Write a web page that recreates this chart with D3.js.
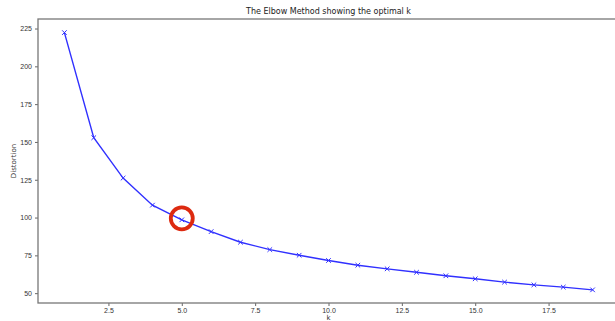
<!DOCTYPE html>
<html lang="en">
<head>
    <meta charset="UTF-8">
    <title>The Elbow Method showing the optimal k</title>
    <script src="https://d3js.org/d3.v7.min.js"></script>
    <style>
        body {
            margin: 0;
            background: #fff;
            font-family: "DejaVu Sans", sans-serif;
        }
        .tick text {
            font-size: 7px;
            fill: #333;
        }
        .tick line {
            stroke: #666;
        }
    </style>
</head>
<body>
    <script>
        // données
        const ks = [1, 2, 3, 4, 5, 6, 7, 8, 9, 10, 11, 12, 13, 14, 15, 16, 17, 18, 19];
        const distortions = [222.3, 152.8, 126.1, 108.2, 98.5, 90.7, 83.7, 78.8, 75.1, 71.6,
                             68.5, 66.1, 63.8, 61.5, 59.5, 57.3, 55.5, 54.0, 52.2];
        const xTicks = [2.5, 5.0, 7.5, 10.0, 12.5, 15.0, 17.5];
        const yTicks = [50, 75, 100, 125, 150, 175, 200, 225];
        const elbowK = 5;
        const elbowValue = 99.5;

        const width = 615;
        const height = 321;
        const margin = { top: 19, right: -4, bottom: 18, left: 38 };

        const svg = d3.select("body")
            .append("svg")
            .attr("width", width)
            .attr("height", height);

        const x = d3.scaleLinear()
            .domain([0.1, 19.9])
            .range([margin.left, width - margin.right]);

        const y = d3.scaleLinear()
            .domain([43.5, 231.3])
            .range([height - margin.bottom, margin.top]);

        // axes
        svg.append("g")
            .attr("transform", `translate(0,${height - margin.bottom})`)
            .call(d3.axisBottom(x).tickValues(xTicks).tickFormat(d3.format(".1f")).tickSize(3).tickPadding(2))
            .call(g => g.select(".domain").remove());

        svg.append("g")
            .attr("transform", `translate(${margin.left},0)`)
            .call(d3.axisLeft(y).tickValues(yTicks).tickSize(3).tickPadding(3))
            .call(g => g.select(".domain").remove());

        // cadre
        svg.append("rect")
            .attr("x", margin.left)
            .attr("y", margin.top)
            .attr("width", width - margin.right - margin.left)
            .attr("height", height - margin.bottom - margin.top)
            .attr("fill", "none")
            .attr("stroke", "#777")
            .attr("stroke-width", 1.3);

        // courbe
        const points = ks.map((k, i) => [k, distortions[i]]);
        const line = d3.line()
            .x(d => x(d[0]))
            .y(d => y(d[1]));

        svg.append("path")
            .datum(points)
            .attr("d", line)
            .attr("fill", "none")
            .attr("stroke", "#3030ff")
            .attr("stroke-width", 1.4);

        // marqueurs x
        const s = 2.3;
        svg.selectAll(".marker")
            .data(points)
            .enter()
            .append("path")
            .attr("class", "marker")
            .attr("d", d => {
                const cx = x(d[0]), cy = y(d[1]);
                return `M${cx - s},${cy - s}L${cx + s},${cy + s}M${cx - s},${cy + s}L${cx + s},${cy - s}`;
            })
            .attr("stroke", "#3030ff")
            .attr("stroke-width", 1);

        // cercle du coude
        svg.append("circle")
            .attr("cx", x(elbowK))
            .attr("cy", y(elbowValue))
            .attr("r", 11)
            .attr("fill", "none")
            .attr("stroke", "#dd2a10")
            .attr("stroke-width", 3.8);

        // titres
        svg.append("text")
            .attr("x", (margin.left + width - margin.right) / 2)
            .attr("y", 14)
            .attr("text-anchor", "middle")
            .attr("font-size", 8)
            .attr("fill", "#222")
            .text("The Elbow Method showing the optimal k");

        svg.append("text")
            .attr("x", (margin.left + width - margin.right) / 2)
            .attr("y", 320)
            .attr("text-anchor", "middle")
            .attr("font-size", 7)
            .attr("fill", "#333")
            .text("k");

        svg.append("text")
            .attr("transform", `translate(16,${(margin.top + height - margin.bottom) / 2}) rotate(-90)`)
            .attr("text-anchor", "middle")
            .attr("font-size", 7)
            .attr("fill", "#333")
            .text("Distortion");
    </script>
</body>
</html>
